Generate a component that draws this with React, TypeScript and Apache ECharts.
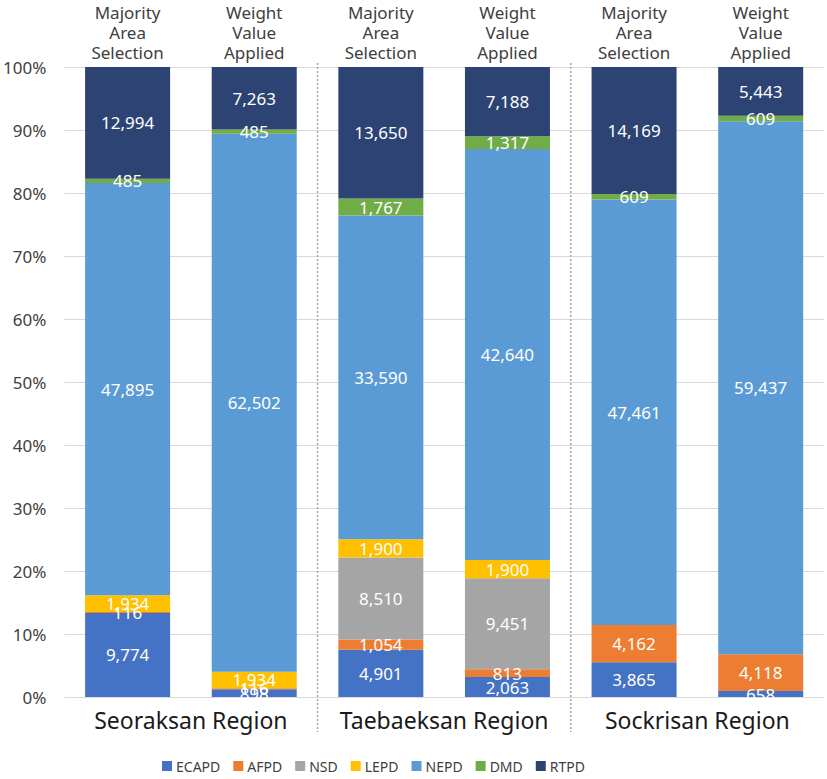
import React, { useEffect, useRef } from "react";
import * as echarts from "echarts";

const barCategories = ["S-MAS", "S-WVA", "T-MAS", "T-WVA", "K-MAS", "K-WVA"];
const topLabels = [
  "Majority\nArea\nSelection",
  "Weight\nValue\nApplied",
  "Majority\nArea\nSelection",
  "Weight\nValue\nApplied",
  "Majority\nArea\nSelection",
  "Weight\nValue\nApplied",
];
const regions = ["Seoraksan Region", "Taebaeksan Region", "Sockrisan Region"];

const seriesNames = ["ECAPD", "AFPD", "NSD", "LEPD", "NEPD", "DMD", "RTPD"];
const ECAPD = [9774, 898, 4901, 2063, 3865, 658];
const AFPD = [116, 116, 1054, 813, 4162, 4118];
const NSD = [0, 0, 8510, 9451, 0, 0];
const LEPD = [1934, 1934, 1900, 1900, 0, 0];
const NEPD = [47895, 62502, 33590, 42640, 47461, 59437];
const DMD = [485, 485, 1767, 1317, 609, 609];
const RTPD = [12994, 7263, 13650, 7188, 14169, 5443];
const seriesValues = [ECAPD, AFPD, NSD, LEPD, NEPD, DMD, RTPD];
const seriesColors = ["#4472C4", "#ED7D31", "#A5A5A5", "#FFC000", "#5B9BD5", "#70AD47", "#2C4374"];

const yTicks = { min: 0, max: 100, interval: 10 };

const FONT = "'Noto Sans', 'Open Sans', sans-serif";

export default function App() {
  const ref = useRef<HTMLDivElement>(null);
  useEffect(() => {
    document.body.style.margin = "0";
    document.body.style.overflow = "hidden";
    if (!ref.current) return;
    const chart = echarts.init(ref.current, undefined, { renderer: "svg" });
    const totals = barCategories.map((_, i) =>
      seriesValues.reduce((s, arr) => s + arr[i], 0)
    );
    const series = seriesNames.map((name, si) => ({
      name,
      type: "bar",
      stack: "total",
      xAxisIndex: 0,
      yAxisIndex: 0,
      barWidth: 85,
      itemStyle: { color: seriesColors[si] },
      label: {
        show: true,
        position: "inside",
        color: "#ffffff",
        fontSize: 17,
        fontFamily: FONT,
        formatter: (p: any) => {
          const raw = seriesValues[si][p.dataIndex];
          return raw > 0 ? raw.toLocaleString("en-US") : "";
        },
      },
      data: seriesValues[si].map((v, i) => (v / totals[i]) * 100),
    }));

    chart.setOption({
      animation: false,
      textStyle: { fontFamily: FONT },
      grid: { left: 62, right: 3, top: 67, bottom: 82, containLabel: false },
      legend: {
        data: seriesNames,
        left: 157,
        bottom: 1,
        icon: "rect",
        itemWidth: 10,
        itemHeight: 10,
        itemGap: 13,
        textStyle: { fontSize: 14, color: "#404040", fontFamily: FONT, padding: [0, 0, 0, -1] },
      },
      xAxis: [
        {
          type: "category",
          data: barCategories,
          position: "bottom",
          axisLine: { show: false },
          axisTick: { show: false },
          axisLabel: { show: false },
        },
        {
          type: "category",
          data: topLabels,
          position: "top",
          gridIndex: 0,
          axisLine: { show: false },
          axisTick: { show: false },
          axisLabel: {
            color: "#404040",
            fontSize: 17,
            lineHeight: 20,
            margin: 5,
            fontFamily: FONT,
            interval: 0,
          },
        },
        {
          type: "category",
          data: regions,
          position: "bottom",
          gridIndex: 0,
          axisLine: { show: false },
          axisTick: { show: false },
          axisLabel: {
            color: "#1a1a1a",
            fontSize: 23,
            margin: 11,
            fontFamily: FONT,
            interval: 0,
          },
        },
      ],
      yAxis: {
        type: "value",
        min: yTicks.min,
        max: yTicks.max,
        interval: yTicks.interval,
        axisLine: { show: false },
        axisTick: { show: false },
        axisLabel: {
          formatter: "{value}%",
          color: "#404040",
          fontSize: 17,
          margin: 18,
          fontFamily: FONT,
        },
        splitLine: { lineStyle: { color: "#d9d9d9", width: 1 } },
      },
      series,
    });

    const xb = (a: number, b: number) =>
      ((chart.convertToPixel({ xAxisIndex: 0 }, a) as number) +
        (chart.convertToPixel({ xAxisIndex: 0 }, b) as number)) / 2;
    const yTop = (chart.convertToPixel({ yAxisIndex: 0 }, 100) as number) - 4;
    const yBot = (chart.convertToPixel({ yAxisIndex: 0 }, 0) as number) + 35;
    const seps = [xb(1, 2), xb(3, 4)];
    chart.setOption({
      graphic: seps.map((x) => ({
        type: "line",
        shape: { x1: x, y1: yTop, x2: x, y2: yBot },
        style: { stroke: "#a6a6a6", lineWidth: 1.5, lineDash: [2, 2] },
        z: 10,
      })),
    });

    return () => chart.dispose();
  }, []);
  return <div ref={ref} style={{ width: 827, height: 779 }} />;
}
